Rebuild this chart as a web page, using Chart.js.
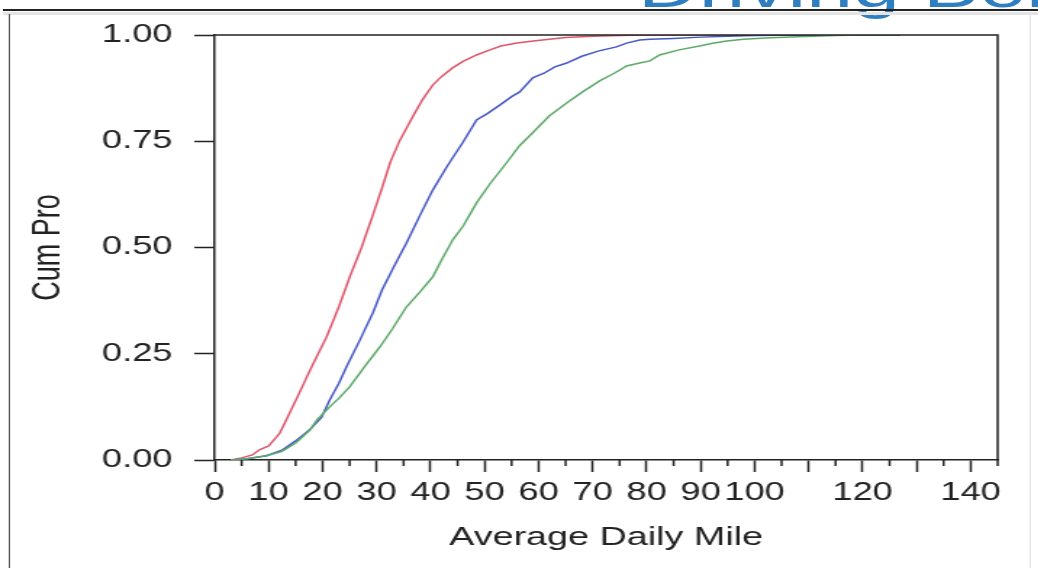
<!DOCTYPE html>
<html>
<head>
<meta charset="utf-8">
<script src="https://cdn.jsdelivr.net/npm/chart.js@4.4.1/dist/chart.umd.min.js"></script>
<style>
  html, body { margin: 0; padding: 0; background: #fff; overflow: hidden; }
  /* the whole slide is stretched sideways, so draw it narrow and widen it */
  #stage {
    position: absolute; left: 0; top: 0;
    width: 716px; height: 568px;
    transform: scaleX(1.45); transform-origin: 0 0;
    overflow: hidden;
  }
  #title {
    position: absolute; left: 440px; top: -42px;
    font: 58px/58px "Liberation Sans", Arial, sans-serif;
    color: #2f7fc0; white-space: nowrap;
  }
  #topLine { position: absolute; left: 2px; right: 0; top: 9px; height: 2px; background: #222; }
  #topShade { position: absolute; left: 2px; right: 0; top: 12px; height: 3px; background: #e4e4e4; }
  #leftLine { position: absolute; left: 6px; top: 14px; bottom: 0; width: 1.4px; background: #555; }
  #rightLine { position: absolute; left: 710px; top: 14px; bottom: 0; width: 1px; background: #e6e6e6; }
  #box { position: absolute; left: 0; top: 0; width: 716px; height: 568px; }
</style>
</head>
<body>
<div id="stage">
  <div id="title">Driving Behavior</div>
  <div id="topLine"></div>
  <div id="topShade"></div>
  <div id="leftLine"></div>
  <div id="rightLine"></div>
  <div id="box"><canvas id="myChart"></canvas></div>
</div>
<script>
// cumulative share of drivers vs. average daily miles
const redMiles = [3, 5, 7, 8.3, 10, 12, 13, 15.7, 18, 20.7, 23, 25, 27.2, 29, 31, 32.5, 34.3, 35.5, 37, 38.5, 40.4, 42, 44, 46, 48.5, 51, 53, 56, 59, 62, 65, 70, 75, 80, 127];
const redCum   = [0, 0.005, 0.012, 0.024, 0.033, 0.062, 0.087, 0.158, 0.22, 0.289, 0.36, 0.43, 0.5, 0.565, 0.64, 0.7, 0.752, 0.78, 0.815, 0.848, 0.882, 0.902, 0.922, 0.938, 0.953, 0.965, 0.974, 0.981, 0.986, 0.99, 0.994, 0.997, 0.999, 1, 1];

const blueMiles = [3, 6, 9.6, 12.6, 15, 17.6, 19.8, 21.3, 23, 24.4, 27, 29.3, 31, 33, 35.5, 38, 40.4, 43, 45.9, 48.5, 50.5, 52.8, 55, 56.5, 58.9, 61, 63, 65.2, 68, 71, 74.4, 76.3, 78.7, 80.6, 85, 90, 95, 100, 110, 127];
const blueCum   = [0, 0.003, 0.01, 0.024, 0.045, 0.071, 0.1, 0.141, 0.18, 0.219, 0.285, 0.346, 0.4, 0.45, 0.51, 0.575, 0.635, 0.69, 0.746, 0.8, 0.815, 0.835, 0.855, 0.866, 0.899, 0.91, 0.925, 0.934, 0.95, 0.962, 0.972, 0.981, 0.988, 0.99, 0.992, 0.995, 0.997, 0.999, 1, 1];

const greenMiles = [3, 6, 9.6, 12.4, 15, 17.6, 19, 21.3, 23, 25, 27.5, 30.6, 33, 35.5, 38, 40.4, 42, 44.1, 46, 48.5, 51, 54.1, 56.5, 58.9, 62, 65.2, 68, 71.3, 74, 76.3, 78.7, 80.6, 82.4, 86, 89.8, 92, 94.8, 98, 102, 108, 115, 120, 127];
const greenCum   = [0, 0.003, 0.01, 0.02, 0.04, 0.07, 0.095, 0.125, 0.145, 0.172, 0.215, 0.266, 0.31, 0.36, 0.395, 0.431, 0.47, 0.518, 0.55, 0.605, 0.65, 0.7, 0.74, 0.77, 0.81, 0.84, 0.865, 0.892, 0.91, 0.927, 0.934, 0.939, 0.953, 0.965, 0.974, 0.98, 0.986, 0.99, 0.993, 0.996, 0.999, 1, 1];

const xLabelled = [0, 10, 20, 30, 40, 50, 60, 70, 80, 90, 100, 120, 140];
const yTicks = [0, 0.25, 0.5, 0.75, 1];

const toPoints = (xs, ys) => xs.map((v, i) => ({ x: v, y: ys[i] }));

Chart.defaults.font.family = '"Liberation Sans", Arial, sans-serif';
Chart.defaults.color = '#222';

// outline of the plot box plus the short ticks at every 5 miles
const frameTicks = {
    id: 'frameTicks',
    afterDraw(chart) {
        const { ctx, chartArea: a, scales: { x } } = chart;
        ctx.save();
        ctx.strokeStyle = '#222';
        ctx.lineWidth = 1.5;
        ctx.beginPath();
        ctx.moveTo(a.left, a.top);
        ctx.lineTo(a.right, a.top);
        ctx.lineTo(a.right, a.bottom);
        for (let v = 5; v <= x.max; v += 10) {
            const px = x.getPixelForValue(v);
            ctx.moveTo(px, a.bottom);
            ctx.lineTo(px, a.bottom + 6);
        }
        ctx.stroke();
        ctx.restore();
    }
};

const ctx = document.getElementById('myChart').getContext('2d');
new Chart(ctx, {
    type: 'line',
    data: {
        datasets: [
            { data: toPoints(greenMiles, greenCum), borderColor: 'rgb(92,170,104)' },
            { data: toPoints(blueMiles, blueCum), borderColor: 'rgb(70,88,196)' },
            { data: toPoints(redMiles, redCum), borderColor: 'rgb(222,86,106)' }
        ]
    },
    options: {
        responsive: true,
        maintainAspectRatio: false,
        animation: false,
        layout: { padding: { top: 35, right: 28, bottom: 0, left: 0 } },
        elements: {
            line: { borderWidth: 1.5, tension: 0 },
            point: { radius: 0 }
        },
        plugins: { legend: { display: false }, tooltip: { enabled: false } },
        scales: {
            x: {
                type: 'linear',
                min: 0,
                max: 145,
                afterFit: s => { s.height = 108; },
                border: { color: '#222', width: 1.5 },
                grid: { drawOnChartArea: false, tickLength: 12, tickColor: '#222', tickWidth: 1.5 },
                ticks: {
                    stepSize: 10,
                    includeBounds: false,
                    autoSkip: false,
                    maxRotation: 0,
                    padding: 6,
                    font: { size: 25 },
                    color: '#222',
                    callback: v => xLabelled.includes(v) ? String(v) : ''
                },
                title: {
                    display: true,
                    text: 'Average Daily Mile',
                    font: { size: 26 },
                    color: '#222',
                    padding: { top: 0, bottom: 15 }
                }
            },
            y: {
                min: 0,
                max: 1,
                afterFit: s => { s.width = 148; },
                afterBuildTicks: s => { s.ticks = yTicks.map(v => ({ value: v })); },
                border: { color: '#222', width: 1.5 },
                grid: { drawOnChartArea: false, tickLength: 14, tickColor: '#222', tickWidth: 1.5 },
                ticks: {
                    padding: 15,
                    font: { size: 25 },
                    color: '#222',
                    callback: v => v.toFixed(2)
                },
                title: {
                    display: true,
                    text: 'Cum Pro',
                    font: { size: 27 },
                    color: '#222',
                    padding: { top: 17, bottom: 0 }
                }
            }
        }
    },
    plugins: [frameTicks]
});
</script>
</body>
</html>
